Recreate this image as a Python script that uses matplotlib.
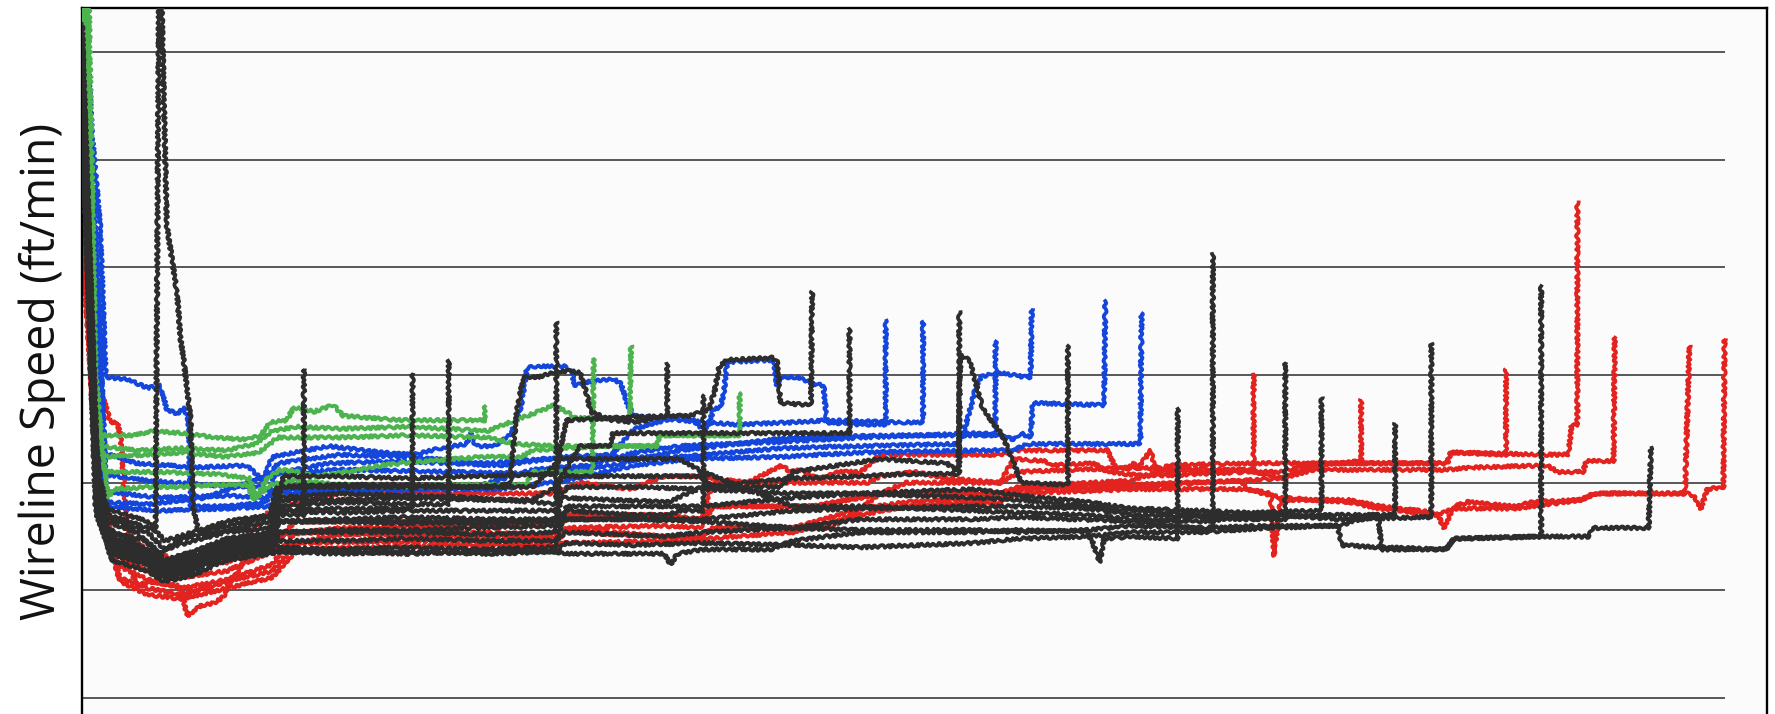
import matplotlib
matplotlib.use("Agg")
import matplotlib.pyplot as plt
import numpy as np

# Wireline speed logs (elapsed time, ft/min); each run ends with a pull-out spike.
black_268 = [(0, 304), (10, 141), (16, 83), (48, 77), (68, 67), (88, 74), (128, 78), (166, 82), (173, 85), (196, 85), (196, 153)]
black_364 = [(0, 309), (12, 125), (18, 80), (48, 72), (68, 62), (93, 67), (128, 73), (166, 76), (174, 87), (228, 88), (292, 88), (292, 151)]
black_396 = [(0, 314), (13, 114), (20, 77), (48, 69), (68, 59), (88, 63), (128, 69), (166, 73), (176, 89), (228, 91), (288, 90), (324, 90), (324, 157)]
black_491 = [(0, 298), (12, 104), (23, 85), (53, 80), (65, 78), (68, 330), (70, 330), (75, 219), (84, 188), (87, 167), (90, 156), (96, 129),
             (98, 89), (103, 77), (128, 80), (166, 84), (173, 93), (228, 95), (288, 94), (348, 93), (398, 91), (419, 90), (419, 175)]
black_589 = [(0, 293), (11, 114), (22, 88), (58, 82), (73, 73), (98, 77), (128, 82), (166, 85), (172, 98), (228, 99), (288, 99), (348, 98),
             (378, 99), (384, 133), (390, 149), (402, 149), (417, 151), (429, 152), (440, 151), (446, 141), (449, 133), (468, 129),
             (490, 128), (505, 130), (517, 131), (517, 156)]
black_621 = [(0, 301), (14, 93), (24, 72), (58, 66), (73, 57), (98, 63), (128, 68), (166, 71), (174, 82), (228, 83), (288, 84), (358, 83),
             (418, 83), (428, 87), (488, 85), (518, 85), (528, 87), (549, 87), (549, 141)]
black_717 = [(0, 306), (13, 98), (23, 75), (58, 69), (73, 62), (98, 66), (128, 72), (166, 75), (178, 103), (228, 103), (288, 102), (348, 103),
             (418, 104), (428, 129), (468, 130), (517, 131), (536, 131), (554, 134), (559, 143), (563, 154), (570, 157), (610, 158),
             (614, 156), (617, 137), (644, 136), (645, 189)]
black_750 = [(0, 296), (12, 109), (21, 84), (58, 77), (73, 69), (98, 73), (128, 77), (166, 79), (174, 92), (228, 92), (288, 93), (358, 92),
             (398, 92), (418, 98), (440, 117), (467, 117), (469, 123), (528, 123), (617, 123), (661, 123), (678, 123), (678, 172)]
black_847 = [(0, 291), (13, 93), (25, 67), (58, 62), (73, 55), (98, 59), (128, 66), (166, 68), (174, 77), (228, 77), (288, 77), (358, 76),
             (418, 77), (423, 93), (468, 92), (518, 91), (548, 98), (628, 102), (688, 103), (728, 104), (775, 104), (775, 180)]
black_943 = [(0, 288), (12, 104), (23, 77), (58, 73), (73, 64), (98, 68), (128, 74), (166, 77), (174, 82), (228, 82), (288, 82), (358, 81),
             (418, 83), (423, 103), (488, 103), (546, 103), (558, 98), (618, 98), (628, 105), (705, 111), (764, 109), (774, 105),
             (776, 159), (784, 157), (788, 149), (796, 134), (813, 122), (823, 109), (830, 100), (871, 99), (871, 164)]
black_1040 = [(0, 285), (14, 88), (26, 64), (58, 59), (73, 54), (98, 57), (128, 64), (166, 67), (174, 68), (228, 67), (288, 68), (358, 67),
              (418, 68), (428, 67), (514, 67), (520, 62), (526, 67), (548, 69), (608, 69), (628, 73), (688, 77), (788, 77), (828, 78),
              (888, 77), (893, 72), (899, 63), (903, 74), (928, 75), (968, 74), (968, 135)]
black_1071 = [(0, 283), (13, 85), (24, 69), (58, 64), (73, 59), (98, 63), (128, 69), (166, 72), (174, 73), (228, 73), (288, 74), (358, 73),
              (418, 73), (428, 77), (514, 75), (548, 77), (628, 79), (688, 83), (788, 83), (828, 84), (928, 82), (999, 78), (999, 207)]
black_1135 = [(0, 280), (14, 91), (24, 75), (58, 68), (73, 62), (98, 65), (128, 71), (166, 74), (174, 77), (228, 78), (288, 78), (348, 79),
              (418, 80), (428, 83), (488, 83), (548, 83), (628, 87), (688, 88), (788, 89), (828, 89), (888, 88), (928, 85), (988, 84),
              (1028, 83), (1063, 83), (1063, 156)]
black_1167 = [(0, 277), (13, 88), (25, 72), (58, 66), (73, 59), (98, 63), (128, 69), (166, 72), (174, 70), (228, 69), (288, 70), (348, 69),
              (418, 70), (428, 89), (488, 89), (548, 89), (628, 93), (688, 95), (788, 97), (828, 94), (888, 91), (928, 88), (988, 87),
              (1028, 86), (1095, 87), (1095, 140)]
black_1232 = [(0, 275), (14, 85), (26, 67), (58, 63), (73, 57), (98, 62), (128, 67), (166, 70), (174, 98), (228, 98), (288, 98), (348, 98),
              (398, 98), (423, 111), (488, 111), (528, 111), (548, 105), (628, 89), (688, 89), (788, 87), (828, 86), (888, 85), (928, 83),
              (988, 82), (1028, 84), (1108, 85), (1160, 85), (1160, 128)]
black_1264 = [(0, 272), (12, 89), (23, 73), (58, 67), (73, 60), (98, 64), (128, 70), (166, 73), (174, 87), (228, 86), (288, 87), (348, 87),
              (418, 87), (428, 98), (488, 98), (548, 97), (628, 95), (688, 95), (788, 93), (828, 92), (888, 89), (928, 87), (988, 85),
              (1058, 85), (1109, 83), (1192, 84), (1192, 165)]
black_1361 = [(0, 269), (13, 87), (24, 71), (58, 65), (73, 58), (98, 63), (128, 68), (166, 71), (174, 82), (228, 82), (288, 81), (348, 82),
              (418, 82), (428, 83), (488, 83), (548, 82), (628, 79), (688, 78), (788, 78), (828, 77), (888, 78), (928, 80), (988, 79),
              (1048, 80), (1109, 80), (1145, 85), (1148, 69), (1205, 69), (1212, 74), (1289, 75), (1289, 192)]
black_1458 = [(0, 267), (14, 84), (26, 69), (58, 64), (73, 56), (98, 61), (128, 67), (166, 69), (174, 68), (228, 68), (288, 67), (348, 68),
              (418, 68), (428, 72), (488, 71), (548, 72), (628, 71), (688, 70), (788, 72), (828, 74), (888, 75), (928, 77), (988, 77),
              (1048, 79), (1109, 80), (1113, 71), (1145, 70), (1205, 69), (1212, 74), (1289, 75), (1331, 75), (1335, 79), (1384, 79),
              (1386, 117)]

red_1107 = [(0, 246), (8, 151), (20, 77), (48, 67), (78, 62), (128, 63), (168, 75), (228, 79), (328, 80), (418, 81), (426, 85), (514, 85),
            (546, 83), (558, 89), (646, 89), (688, 93), (705, 95), (811, 95), (828, 98), (928, 101), (948, 105), (1028, 106), (1035, 106),
            (1035, 151)]
red_1202 = [(0, 235), (10, 135), (26, 72), (37, 67), (49, 52), (58, 54), (87, 52), (93, 38), (105, 43), (116, 44), (125, 47), (131, 54),
            (137, 58), (140, 61), (146, 67), (164, 67), (181, 71), (228, 76), (328, 77), (418, 76), (426, 78), (470, 77), (514, 75),
            (546, 75), (558, 79), (661, 79), (688, 88), (705, 95), (728, 100), (811, 100), (828, 105), (928, 107), (1028, 106),
            (1059, 102), (1088, 108), (1130, 110), (1130, 139)]
red_1330 = [(0, 241), (10, 156), (25, 128), (31, 128), (34, 122), (40, 77), (58, 68), (88, 64), (128, 66), (168, 88), (228, 95), (328, 95),
            (418, 95), (440, 100), (470, 98), (485, 97), (514, 103), (546, 103), (558, 102), (588, 100), (618, 108), (626, 105),
            (635, 106), (644, 103), (655, 102), (667, 105), (688, 105), (705, 113), (811, 113), (823, 115), (906, 115), (912, 108),
            (923, 106), (929, 109), (932, 106), (944, 115), (947, 108), (953, 105), (959, 108), (1028, 109), (1088, 109), (1206, 109),
            (1209, 114), (1258, 113), (1258, 153)]
red_1393 = [(0, 230), (12, 125), (28, 67), (58, 59), (88, 56), (128, 59), (163, 67), (188, 82), (328, 82), (418, 82), (428, 85), (514, 84),
            (546, 83), (558, 100), (694, 100), (705, 103), (735, 105), (764, 102), (811, 100), (823, 111), (852, 110), (855, 108),
            (894, 109), (906, 105), (941, 103), (1028, 105), (1059, 105), (1088, 109), (1206, 109), (1209, 114), (1294, 113),
            (1313, 113), (1316, 127), (1321, 127), (1321, 231)]
red_1426 = [(0, 225), (12, 114), (30, 62), (58, 55), (88, 51), (128, 55), (168, 62), (188, 77), (328, 75), (418, 75), (428, 79), (514, 80),
            (546, 79), (558, 89), (646, 89), (705, 95), (811, 95), (828, 98), (928, 99), (1028, 101), (1059, 102), (1088, 106),
            (1206, 106), (1228, 107), (1294, 108), (1304, 105), (1326, 105), (1329, 110), (1353, 110), (1354, 168)]
red_1492 = [(0, 219), (13, 104), (32, 56), (58, 51), (88, 48), (128, 54), (168, 59), (190, 72), (328, 73), (418, 73), (428, 77), (514, 75),
            (546, 75), (558, 79), (628, 79), (688, 88), (728, 91), (811, 93), (828, 97), (928, 98), (1023, 101), (1029, 97), (1050, 95),
            (1053, 66), (1056, 80), (1059, 92), (1118, 92), (1147, 89), (1197, 86), (1203, 79), (1212, 89), (1224, 91), (1265, 89),
            (1282, 91), (1324, 92), (1336, 95), (1416, 95), (1420, 164)]
red_1523 = [(0, 214), (14, 98), (34, 54), (58, 48), (88, 46), (128, 51), (168, 56), (190, 69), (328, 71), (418, 71), (428, 72), (528, 73),
            (628, 77), (688, 85), (728, 89), (811, 91), (828, 95), (928, 97), (1028, 97), (1059, 93), (1118, 91), (1147, 88), (1198, 85),
            (1212, 88), (1265, 88), (1282, 89), (1324, 92), (1338, 95), (1418, 95), (1425, 93), (1430, 88), (1436, 97), (1450, 98),
            (1451, 167)]

blue_815 = [(0, 304), (6, 272), (13, 204), (20, 114), (48, 109), (78, 108), (94, 107), (146, 108), (152, 105), (160, 101), (168, 112),
            (188, 114), (218, 117), (264, 114), (293, 113), (317, 116), (340, 118), (343, 123), (348, 117), (364, 117), (378, 122),
            (384, 129), (388, 136), (393, 153), (399, 154), (417, 154), (428, 154), (433, 151), (435, 145), (449, 147), (470, 148),
            (476, 146), (482, 136), (488, 131), (528, 129), (578, 127), (628, 128), (658, 129), (718, 128), (743, 128), (743, 175)]
blue_782 = [(0, 314), (5, 299), (9, 261), (16, 219), (21, 149), (40, 148), (58, 144), (69, 145), (75, 134), (84, 132), (90, 135), (94, 129),
            (96, 89), (128, 89), (163, 91), (170, 104), (218, 109), (278, 110), (328, 109), (368, 108), (428, 112), (468, 113),
            (488, 125), (528, 131), (540, 129), (546, 126), (552, 125), (558, 134), (564, 135), (567, 142), (570, 156), (611, 157),
            (614, 145), (617, 149), (632, 149), (646, 146), (655, 145), (658, 128), (688, 127), (710, 127), (710, 176)]
blue_911 = [(0, 283), (10, 219), (18, 104), (58, 101), (108, 99), (158, 98), (173, 109), (228, 113), (288, 112), (358, 109), (408, 111),
            (448, 112), (528, 112), (618, 116), (688, 117), (773, 118), (778, 122), (784, 133), (790, 145), (794, 149), (806, 151),
            (811, 151), (834, 149), (838, 149), (839, 181)]
blue_975 = [(2, 288), (12, 209), (20, 96), (68, 93), (128, 94), (163, 93), (173, 97), (228, 97), (288, 97), (348, 98), (398, 106),
            (448, 108), (488, 114), (528, 117), (618, 119), (688, 121), (793, 123), (811, 122), (823, 120), (829, 123), (838, 121),
            (840, 137), (903, 136), (904, 185)]
blue_1008 = [(3, 277), (14, 188), (22, 89), (68, 87), (128, 88), (166, 89), (176, 95), (228, 96), (308, 97), (368, 97), (428, 101),
             (488, 108), (538, 111), (618, 112), (688, 114), (793, 115), (823, 115), (835, 118), (882, 118), (935, 118), (936, 179)]
blue_879 = [(1, 298), (8, 230), (18, 91), (58, 90), (108, 93), (168, 104), (228, 106), (328, 105), (408, 104), (468, 108), (528, 115),
            (628, 121), (728, 122), (807, 122), (807, 166)]

green_428 = [(0, 330), (4, 219), (14, 122), (46, 122), (63, 124), (88, 123), (118, 121), (146, 120), (158, 122), (166, 128), (181, 129),
             (187, 135), (205, 133), (222, 136), (231, 131), (283, 129), (356, 129), (356, 136)]
green_557 = [(0, 325), (6, 193), (16, 117), (48, 115), (88, 116), (128, 115), (153, 118), (168, 124), (190, 126), (228, 125), (288, 126),
             (358, 124), (383, 129), (403, 133), (417, 136), (424, 134), (437, 130), (484, 130), (485, 164)]
green_580 = [(2, 325), (8, 167), (18, 112), (58, 113), (88, 114), (128, 112), (156, 114), (173, 121), (228, 121), (288, 122), (358, 121),
             (383, 118), (418, 117), (458, 117), (508, 117), (510, 122), (581, 122)]
green_653 = [(4, 325), (10, 151), (23, 93), (28, 97), (58, 98), (87, 98), (116, 99), (146, 99), (152, 92), (164, 102), (175, 106),
             (190, 105), (205, 103), (234, 105), (264, 108), (281, 109), (353, 112), (388, 112), (398, 115), (458, 117), (508, 117),
             (510, 122), (581, 122), (581, 142)]
green_524 = [(6, 325), (12, 151), (20, 105), (68, 105), (118, 104), (148, 102), (154, 93), (166, 99), (188, 101), (228, 99), (288, 98),
             (326, 99), (393, 99), (397, 105), (451, 105), (452, 158)]

red_runs = [red_1107, red_1202, red_1330, red_1393, red_1426, red_1492, red_1523]
blue_runs = [blue_815, blue_782, blue_911, blue_975, blue_1008, blue_879]
green_runs = [green_428, green_557, green_580, green_653, green_524]
black_runs = [black_268, black_364, black_396, black_491, black_589, black_621, black_717, black_750, black_847, black_943,
              black_1040, black_1071, black_1135, black_1167, black_1232, black_1264, black_1361, black_1458]

speed_grid = [0, 50, 100, 150, 200, 250, 300]
time_end = 1451

W, H = 1775, 714
fig = plt.figure(figsize=(W / 100, H / 100), dpi=100)
fig.patch.set_facecolor("white")
ax = fig.add_axes([82 / W, 0.0, (1767 - 82) / W, 706 / H])
ax.set_facecolor("#fbfbfb")
ax.set_xlim(0, 1488.5)
ax.set_ylim(-7.4, 320.4)

ax.hlines(speed_grid, 0, time_end, colors="#4a4a4a", linewidth=1.3, zorder=1)


def draw_runs(runs, color, z):
    for run in runs:
        t, v = zip(*run)
        line, = ax.plot(t, v, color=color, linewidth=2.7, zorder=z,
                        solid_joinstyle="round", solid_capstyle="butt")
        line.set_sketch_params(scale=1.4, length=7, randomness=3)


draw_runs(red_runs, "#e3231f", 2)
draw_runs(blue_runs, "#1446dc", 3)
draw_runs(green_runs, "#4db34f", 4)
draw_runs(black_runs, "#2d2d2d", 5)

ax.set_xticks([])
ax.set_yticks([])
for side in ("left", "top", "right"):
    ax.spines[side].set_color("black")
    ax.spines[side].set_linewidth(1.7)
ax.spines["bottom"].set_visible(False)

fig.text(42 / W, 1 - 371 / H, "Wireline Speed (ft/min)", rotation=90,
         ha="center", va="center", fontsize=33.5, color="#111111",
         family=["Open Sans", "DejaVu Sans"])

fig.savefig("out.png", dpi=100, facecolor=fig.get_facecolor())
